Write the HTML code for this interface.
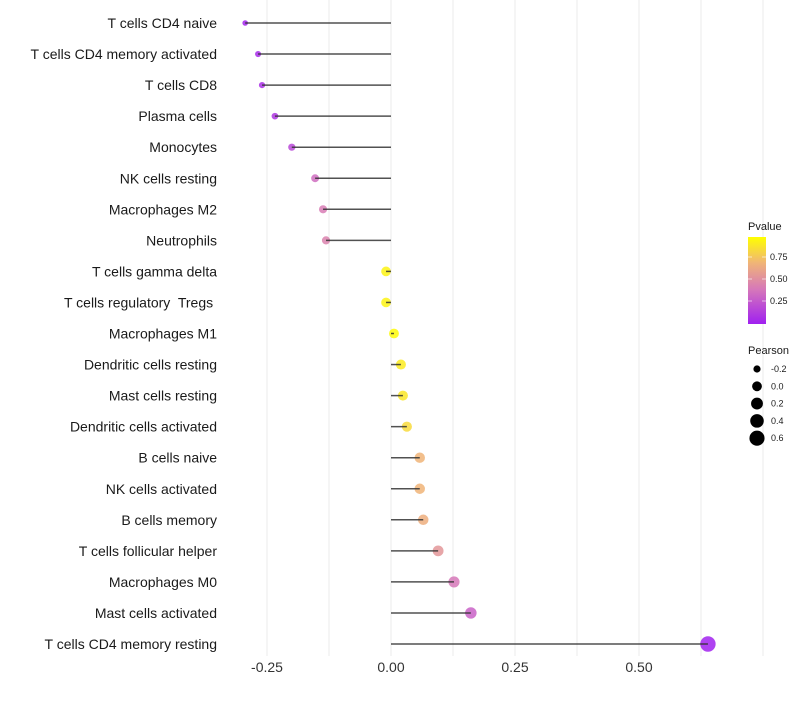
<!DOCTYPE html>
<html><head><meta charset="utf-8"><style>
body{margin:0;background:#fff;font-family:"Liberation Sans",sans-serif}
</style></head><body>
<svg id="c" width="800" height="700" style="font-family:'Liberation Sans',sans-serif"></svg>
<script>
const categories=["T cells CD4 naive","T cells CD4 memory activated","T cells CD8","Plasma cells","Monocytes","NK cells resting","Macrophages M2","Neutrophils","T cells gamma delta","T cells regulatory  Tregs ","Macrophages M1","Dendritic cells resting","Mast cells resting","Dendritic cells activated","B cells naive","NK cells activated","B cells memory","T cells follicular helper","Macrophages M0","Mast cells activated","T cells CD4 memory resting"];
const pearson=[-0.294,-0.268,-0.26,-0.234,-0.2,-0.153,-0.137,-0.131,-0.01,-0.01,0.006,0.02,0.024,0.032,0.058,0.058,0.065,0.095,0.127,0.161,0.639];
const pvalue=[0.02,0.05,0.07,0.1,0.18,0.35,0.42,0.45,0.95,0.95,0.98,0.92,0.9,0.85,0.7,0.7,0.67,0.55,0.4,0.3,0.01];
const xTicks=[-0.25,0,0.25,0.5];
const xTickLabels=["-0.25","0.00","0.25","0.50"];
const cbTicks=[0.25,0.5,0.75];
const sizeLegend=[-0.2,0,0.2,0.4,0.6];

const NS="http://www.w3.org/2000/svg";
const svg=document.getElementById('c');
function mk(t,a,p){const e=document.createElementNS(NS,t);for(const k in a)e.setAttribute(k,a[k]);(p||svg).appendChild(e);return e;}
const x=v=>391+v*496;
const y=i=>23+i*31.05;
const r=v=>Math.sqrt(Math.max(4,24+55*v));
const stops=[[0,[160,32,240]],[0.4,[214,120,185]],[0.7,[240,180,120]],[1,[255,255,0]]];
function col(p){for(let i=1;i<stops.length;i++){if(p<=stops[i][0]){const a=stops[i-1],b=stops[i],t=(p-a[0])/(b[0]-a[0]);return 'rgb('+a[1].map((c,k)=>Math.round(c+(b[1][k]-c)*t)).join(',')+')';}}return 'rgb(255,255,0)';}

for(let v=-0.25;v<=0.76;v+=0.125){const g=mk('line',{x1:x(v),x2:x(v),y1:0,y2:656,stroke:'#ebebeb','stroke-width':1});

}
xTicks.forEach((v,i)=>{const t=mk('text',{x:x(v),y:672,'text-anchor':'middle','font-size':14,fill:'#333'});t.textContent=xTickLabels[i];

});

categories.forEach((c,i)=>{
const t=mk('text',{x:217,y:y(i)+5,'text-anchor':'end','font-size':14,fill:'#1a1a1a',style:'white-space:pre'});t.textContent=c;


const d=mk('circle',{cx:x(pearson[i]),cy:y(i),r:r(pearson[i]),fill:col(pvalue[i]),'fill-opacity':0.85});


const l=mk('line',{x1:x(0),x2:x(pearson[i]),y1:y(i),y2:y(i),stroke:'#333','stroke-opacity':0.85,'stroke-width':1.5});


});

const defs=mk('defs',{});const lg=mk('linearGradient',{id:'g',x1:0,y1:1,x2:0,y2:0},defs);
stops.forEach(s=>mk('stop',{offset:s[0]*100+'%','stop-color':'rgb('+s[1].join(',')+')'},lg));
let t=mk('text',{x:748,y:230,'font-size':11,fill:'#1a1a1a'});t.textContent='Pvalue';

const cb=mk('rect',{x:748,y:237,width:18,height:87,fill:'url(#g)'});

const cy=p=>323-p*88;
cbTicks.forEach(p=>{mk('line',{x1:748,x2:752,y1:cy(p),y2:cy(p),stroke:'#fff','stroke-opacity':0.6});mk('line',{x1:762,x2:766,y1:cy(p),y2:cy(p),stroke:'#fff','stroke-opacity':0.6});
const tt=mk('text',{x:770,y:cy(p)+3,'font-size':9,fill:'#1a1a1a'});tt.textContent=p.toFixed(2);
});
t=mk('text',{x:748,y:354,'font-size':11,fill:'#1a1a1a'});t.textContent='Pearson';

sizeLegend.forEach((v,i)=>{const yy=369+i*17.3;
const c=mk('circle',{cx:757,cy:yy,r:r(v),fill:'#000'});

const tt=mk('text',{x:771,y:yy+3,'font-size':9,fill:'#1a1a1a'});tt.textContent=v.toFixed(1);
});
</script>
</body></html>
